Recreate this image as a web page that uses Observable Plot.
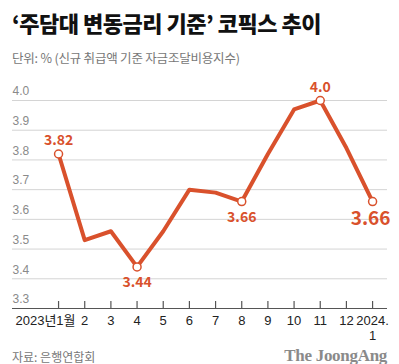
<!DOCTYPE html>
<html><head><meta charset="utf-8">
<script src="https://cdn.jsdelivr.net/npm/d3@7"></script>
<script src="https://cdn.jsdelivr.net/npm/@observablehq/plot@0.6"></script>
<style>
body{margin:0;background:#fff;width:399px;height:364px;position:relative;overflow:hidden;font-family:"Noto Sans CJK KR","Noto Sans",sans-serif;}
#title{position:absolute;left:12px;top:8px;font-size:22px;line-height:28px;font-weight:900;color:#111;letter-spacing:-0.5px;white-space:nowrap;}
#sub{position:absolute;left:12px;top:49px;font-size:12.5px;line-height:18px;color:#777;white-space:nowrap;letter-spacing:-0.2px;}
#chart{position:absolute;left:0;top:72px;}
#src{position:absolute;left:12px;top:348px;font-size:12px;line-height:18px;color:#777;}
#logo{position:absolute;right:12px;top:345px;font-family:"Liberation Serif","DejaVu Serif",serif;font-weight:bold;font-size:17px;line-height:22px;color:#8a8a8a;letter-spacing:-0.3px;}
</style></head>
<body>
<div id="title">‘주담대 변동금리 기준’ 코픽스 추이</div>
<div id="sub">단위: % (신규 취급액 기준 자금조달비용지수)</div>
<div id="chart"></div>
<div id="src">자료: 은행연합회</div>
<div id="logo">The JoongAng</div>
<script>
const months = ["2023년1월","2","3","4","5","6","7","8","9","10","11","12","2024.\n1"];
const cofix = [3.82,3.53,3.56,3.44,3.56,3.70,3.69,3.66,3.82,3.97,4.00,3.84,3.66];
const pointLabels = ["3.82","","","3.44","","","","3.66","","","4.0","","3.66"];
const yTicks = [3.3,3.4,3.5,3.6,3.7,3.8,3.9,4.0];

const data = cofix.map((v,i)=>({i, v, line1: months[i].split("\n")[0], line2: months[i].split("\n")[1] || "", label: pointLabels[i]}));
const labeled = data.filter(d=>d.label);
const above = labeled.filter(d=>d.i===0 || d.i===10);
const below = labeled.filter(d=>d.i===3 || d.i===7);
const last = labeled.filter(d=>d.i===months.length-1);
const red = "#d9512c";
const numFont = '"Liberation Sans","Noto Sans CJK KR",sans-serif';

const chart = Plot.plot({
  width: 399, height: 276,
  marginTop: 28, marginBottom: 40, marginLeft: 12, marginRight: 12,
  x: {type:"linear", domain:[-1.76, 12.57], axis:null},
  y: {domain:[3.3, 4.0], axis:null},
  style: {fontFamily: '"Noto Sans CJK KR","Noto Sans",sans-serif', background:"transparent", overflow:"visible"},
  marks: [
    Plot.ruleY(yTicks.filter(t=>t>3.3), {stroke:"#d4d4d4", strokeWidth:1}),
    Plot.ruleY([3.3], {stroke:"#555", strokeWidth:1.2}),
    Plot.ruleX(data, {x:"i", y1:()=>3.3, y2:()=>3.3, insetBottom:7, stroke:"#555", strokeWidth:1.2}),
    Plot.text(yTicks, {y:d=>d, frameAnchor:"left", textAnchor:"start", dy:-9, text:d=>d.toFixed(1), fill:"#8a8a8a", fontSize:12, fontFamily:numFont}),
    Plot.text(data.filter(d=>d.i>0), {x:"i", y:()=>3.3, text:"line1", dy:12, fill:"#222", fontSize:13, letterSpacing:-0.3, fontFamily:numFont}),
    Plot.text(data.filter(d=>d.line2), {x:"i", y:()=>3.3, text:"line2", dy:27, fill:"#222", fontSize:13, fontFamily:numFont}),
    Plot.text(data.filter(d=>d.i===0), {x:"i", y:()=>3.3, text:"line1", dy:12, dx:17, textAnchor:"end", fill:"#222", fontSize:13, letterSpacing:-0.5, fontFamily:numFont}),
    Plot.line(data, {x:"i", y:"v", stroke:red, strokeWidth:4, strokeLinejoin:"round", strokeLinecap:"round"}),
    Plot.dot(labeled, {x:"i", y:"v", r:4, fill:"white", stroke:red, strokeWidth:1.5}),
    Plot.text(above, {x:"i", y:"v", text:"label", dy:-13, fill:red, fontSize:14, fontWeight:"bold"}),
    Plot.text(below, {x:"i", y:"v", text:"label", dy:16, fill:red, fontSize:14, fontWeight:"bold"}),
    Plot.text(last, {x:"i", y:"v", text:"label", dy:17, dx:-2, fill:red, fontSize:19, fontWeight:"bold"})
  ]
});
document.getElementById("chart").appendChild(chart);
</script>
</body></html>
